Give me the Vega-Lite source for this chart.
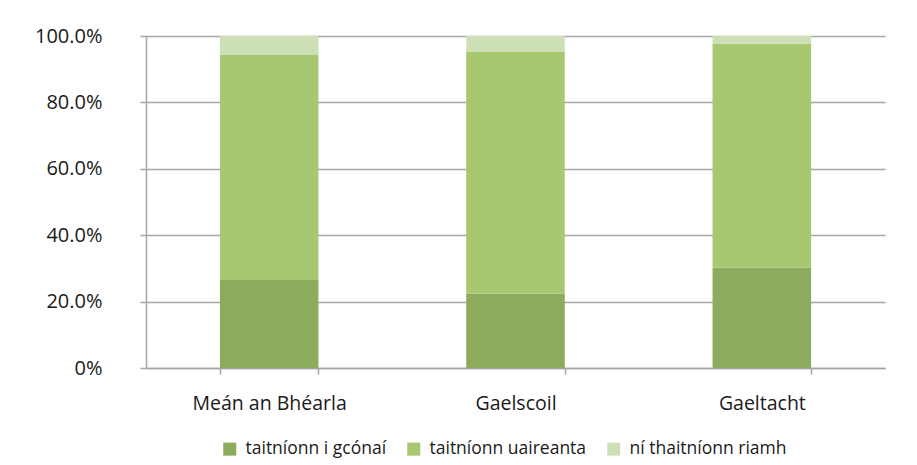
{
  "$schema": "https://vega.github.io/schema/vega-lite/v6.json",
  "width": 739,
  "height": 332,
  "autosize": {"type": "none"},
  "padding": {"left": 146, "top": 36, "right": 32, "bottom": 97},
  "background": "white",
  "config": {
    "view": {"stroke": null},
    "font": "Open Sans",
    "axis": {"labelFont": "Open Sans", "labelColor": "#1a1a1a"}
  },
  "data": {
    "values": [
      {"cat": "Meán an Bhéarla", "series": "taitníonn i gcónaí", "ord": 1, "value": 26.5},
      {"cat": "Meán an Bhéarla", "series": "taitníonn uaireanta", "ord": 2, "value": 67.8},
      {"cat": "Meán an Bhéarla", "series": "ní thaitníonn riamh", "ord": 3, "value": 5.7},
      {"cat": "Gaelscoil", "series": "taitníonn i gcónaí", "ord": 1, "value": 22.4},
      {"cat": "Gaelscoil", "series": "taitníonn uaireanta", "ord": 2, "value": 72.9},
      {"cat": "Gaelscoil", "series": "ní thaitníonn riamh", "ord": 3, "value": 4.7},
      {"cat": "Gaeltacht", "series": "taitníonn i gcónaí", "ord": 1, "value": 30.3},
      {"cat": "Gaeltacht", "series": "taitníonn uaireanta", "ord": 2, "value": 67.4},
      {"cat": "Gaeltacht", "series": "ní thaitníonn riamh", "ord": 3, "value": 2.3}
    ]
  },
  "mark": {"type": "bar"},
  "encoding": {
    "x": {
      "field": "cat",
      "type": "nominal",
      "sort": ["Meán an Bhéarla", "Gaelscoil", "Gaeltacht"],
      "scale": {"paddingInner": 0.6, "paddingOuter": 0.3},
      "axis": {
        "title": null,
        "labelAngle": 0,
        "labelFontSize": 19.5,
        "labelPadding": 20,
        "tickBand": "extent",
        "tickSize": 6,
        "tickColor": "#a6a6a6",
        "tickWidth": 1.5,
        "domainColor": "#a6a6a6",
        "domainWidth": 1.5
      }
    },
    "y": {
      "field": "value",
      "type": "quantitative",
      "stack": "zero",
      "scale": {"domain": [0, 100]},
      "axis": {
        "title": null,
        "values": [0, 20, 40, 60, 80, 100],
        "labelExpr": "datum.value == 0 ? '0%' : format(datum.value, '.1f') + '%'",
        "labelFontSize": 20,
        "labelPadding": 38,
        "tickSize": 6,
        "tickColor": "#a6a6a6",
        "tickWidth": 1.5,
        "domainColor": "#a6a6a6",
        "domainWidth": 1.5,
        "grid": true,
        "gridColor": "#a6a6a6",
        "gridWidth": 1.5
      }
    },
    "order": {"field": "ord", "type": "quantitative"},
    "color": {
      "field": "series",
      "type": "nominal",
      "scale": {
        "domain": ["taitníonn i gcónaí", "taitníonn uaireanta", "ní thaitníonn riamh"],
        "range": ["#8dab5c", "#a7c871", "#cde0b5"]
      },
      "legend": {
        "title": null,
        "orient": "none",
        "direction": "horizontal",
        "legendX": 75,
        "legendY": 404,
        "symbolType": "square",
        "symbolSize": 169,
        "symbolStrokeWidth": 0,
        "labelFontSize": 17.5,
        "labelColor": "#1a1a1a",
        "columnPadding": 18,
        "labelOffset": 7
      }
    }
  }
}
